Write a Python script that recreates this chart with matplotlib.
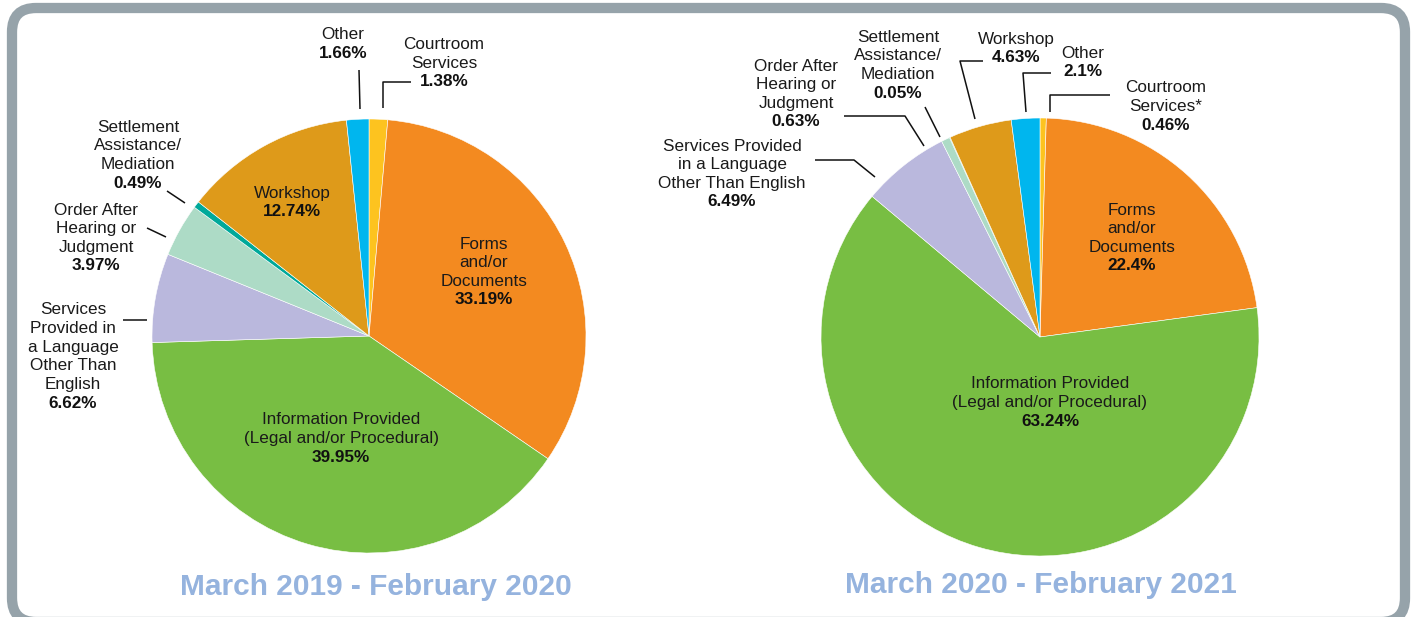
import matplotlib
matplotlib.use("Agg")
import matplotlib.pyplot as plt
from matplotlib.patches import FancyBboxPatch

plt.rcParams['font.family'] = ['Liberation Sans', 'DejaVu Sans']

W, H = 1411, 617

# slice order: clockwise from 12 o'clock
colors = ['#FDC31F', '#F38A20', '#78BE43', '#BAB8DD', '#ADDBC6', '#00A99A', '#DE9A1A', '#00B6EE']

vals_2019 = [1.38, 33.19, 39.95, 6.62, 3.97, 0.49, 12.74, 1.66]
vals_2020 = [0.46, 22.4, 63.24, 6.49, 0.63, 0.05, 4.63, 2.1]

names_2019 = [['Courtroom', 'Services'], ['Forms', 'and/or', 'Documents'],
              ['Information Provided', '(Legal and/or Procedural)'],
              ['Services', 'Provided in', 'a Language', 'Other Than', 'English'],
              ['Order After', 'Hearing or', 'Judgment'],
              ['Settlement', 'Assistance/', 'Mediation'], ['Workshop'], ['Other']]
names_2020 = [['Courtroom', 'Services*'], ['Forms', 'and/or', 'Documents'],
              ['Information Provided', '(Legal and/or Procedural)'],
              ['Services Provided', 'in a Language', 'Other Than English'],
              ['Order After', 'Hearing or', 'Judgment'],
              ['Settlement', 'Assistance/', 'Mediation'], ['Workshop'], ['Other']]

titles = ['March 2019 - February 2020', 'March 2020 - February 2021']

# label anchor (x centre, y of the percentage line) in pixels from top-left
pos_2019 = [(444, 82), (484, 300), (341, 457), (73, 403), (96, 266), (138, 183), (292, 212), (343, 53)]
pos_2020 = [(1166, 125), (1132, 266), (1050, 421), (732, 202), (796, 122), (898, 93), (1016, 58), (1083, 72)]

leaders_2019 = [[(383, 108), (383, 82), (411, 82)], None, None, [(123, 320), (147, 320)],
                [(147, 228), (166, 237)], [(167, 191), (185, 203)], None, [(359, 70), (360, 109)]]
leaders_2020 = [[(1050, 112), (1050, 95), (1110, 95)], None, None, [(815, 160), (854, 160), (875, 177)],
                [(844, 116), (905, 116), (924, 146)], [(925, 107), (940, 137)],
                [(983, 61), (960, 61), (975, 119)], [(1051, 73), (1023, 73), (1026, 112)]]

fig = plt.figure(figsize=(W / 100, H / 100), dpi=100)
ax = fig.add_axes([0, 0, 1, 1])


def Y(y):
    return H - y


# rounded frame, bottom edge runs past the figure
frame = FancyBboxPatch((12, Y(622)), 1393, 614, boxstyle='round,pad=0,rounding_size=24',
                       facecolor='white', edgecolor='#96A3AA', linewidth=7.4, zorder=0)
ax.add_patch(frame)

step = 18.6
fs = 12.3

for vals, names, pos, leaders, center, r, title, tx, ty in [
        (vals_2019, names_2019, pos_2019, leaders_2019, (369, 336), 217, titles[0], 376, 587),
        (vals_2020, names_2020, pos_2020, leaders_2020, (1040, 337), 219, titles[1], 1041, 585)]:
    ax.pie(vals, colors=colors, startangle=90, counterclock=False,
           center=(center[0], Y(center[1])), radius=r, frame=True,
           wedgeprops=dict(linewidth=0.4, edgecolor='white'))
    for v, nm, (x, y), ld in zip(vals, names, pos, leaders):
        n = len(nm)
        for i, line in enumerate(nm):
            ax.text(x, Y(y - (n - i) * step), line, ha='center', va='center',
                    fontsize=fs, color='#1a1a1a')
        ax.text(x, Y(y), f'{v:g}%', ha='center', va='center', fontsize=fs,
                fontweight='bold', color='#111111')
        if ld:
            ax.plot([p[0] for p in ld], [Y(p[1]) for p in ld], color='#111111', lw=1.1,
                    solid_capstyle='butt')
    ax.text(tx, Y(ty), title, ha='center', va='center', fontsize=21.5,
            fontweight='bold', color='#95B3DE')

ax.set_xlim(0, W)
ax.set_ylim(0, H)
ax.set_aspect('auto')
ax.axis('off')

fig.savefig('out.png', dpi=100)
